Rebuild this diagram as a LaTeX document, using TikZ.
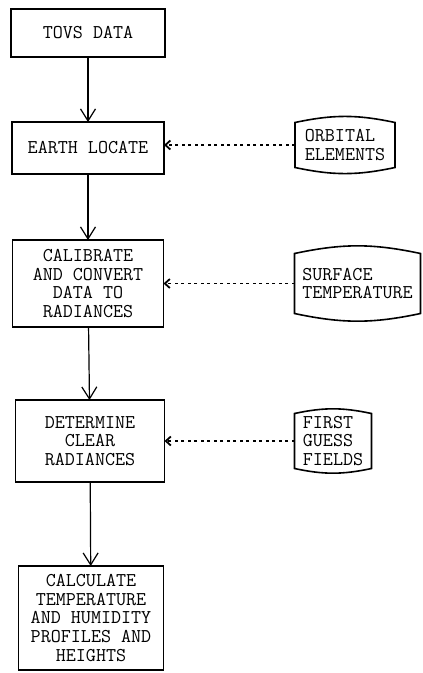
\documentclass[tikz,border=0pt]{standalone}
\usepackage{fontspec}
\usepackage{tikz}
\usetikzlibrary{arrows.meta,positioning}
\tikzset{
  block/.style={rectangle, draw=black, line width=1.6pt, inner sep=2pt, outer sep=0pt,
                minimum width=152pt, align=center,
                font=\ttfamily\fontsize{19.5}{18.8}\selectfont},
  store/.style={rectangle, draw=none, inner sep=2pt, outer sep=0pt, align=left,
                font=\ttfamily\fontsize{19.5}{18.8}\selectfont},
  arrow/.style={-{Straight Barb[length=12pt, width=15pt]}, line width=1.2pt},
  dotarrow/.style={-{Straight Barb[length=5pt, width=9pt]}, line width=1.8pt,
                   dash pattern=on 3pt off 3.5pt},
}
\begin{document}
\begin{tikzpicture}
\useasboundingbox (0,0) rectangle (423pt,-673pt);
\node[block, minimum width=154pt, minimum height=48pt] (tovs) at (88pt,-33pt) {TOVS DATA};
\node[block, below=65pt of tovs, minimum height=52pt] (earth) {EARTH LOCATE};
\node[block, below=66pt of earth, minimum width=151pt, minimum height=87pt] (calib)
  {CALIBRATE\\AND CONVERT\\DATA TO\\RADIANCES};
\node[block, below=73pt of calib, xshift=2pt, minimum width=149pt, minimum height=82pt] (clear)
  {DETERMINE\\CLEAR\\RADIANCES};
\node[block, below=84pt of clear, xshift=1pt, minimum width=145pt, minimum height=104pt] (calc)
  {CALCULATE\\TEMPERATURE\\AND HUMIDITY\\PROFILES AND\\HEIGHTS};
\node[store, right=131pt of earth, yshift=3pt, minimum width=100pt, minimum height=55pt] (orbital)
  {ORBITAL\\ELEMENTS};
\node[store, right=131pt of calib, minimum width=126pt, minimum height=70pt] (surface)
  {SURFACE\\TEMPERATURE};
\node[store, right=130pt of clear, minimum width=77pt, minimum height=65pt] (guess)
  {FIRST\\GUESS\\FIELDS};
% stored-data outlines
\foreach \n in {orbital, surface, guess}
  \draw[line width=1.6pt] ([yshift=-5pt]\n.north west) to[bend left=12] ([yshift=-5pt]\n.north east)
    -- ([yshift=5pt]\n.south east) to[bend left=12] ([yshift=5pt]\n.south west) -- cycle;
\foreach \a/\b in {tovs/earth, earth/calib, calib/clear, clear/calc}
  \draw[arrow] (\a) -- (\b);
\draw[dotarrow] (orbital.west) -- (orbital.west -| earth.east);
\draw[dotarrow] (surface) -- (calib);
\draw[dotarrow] (guess) -- (clear);
\end{tikzpicture}
\end{document}
